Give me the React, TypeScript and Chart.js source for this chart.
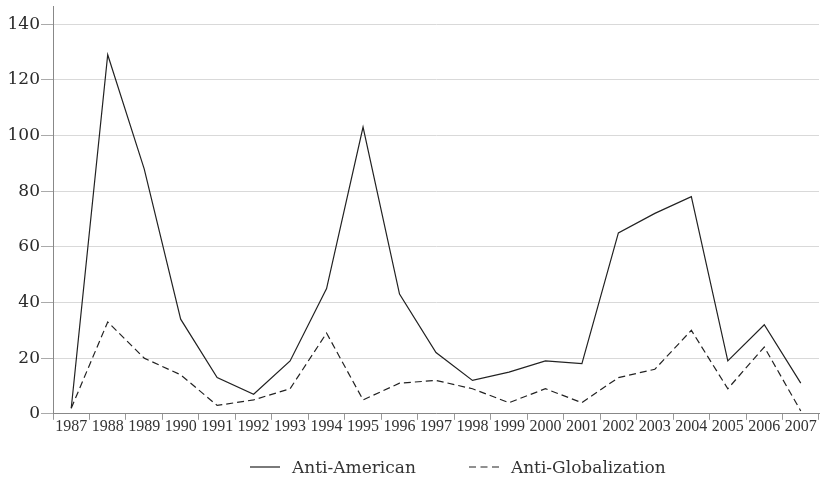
import React, { useEffect, useRef } from "react";
import { Chart, registerables } from "chart.js";

Chart.register(...registerables);

const years = ["1987","1988","1989","1990","1991","1992","1993","1994","1995","1996","1997","1998","1999","2000","2001","2002","2003","2004","2005","2006","2007"];
const antiAmerican = [2,129,88,34,13,7,19,45,103,43,22,12,15,19,18,65,72,78,19,32,11];
const antiGlobalization = [2,33,20,14,3,5,9,29,5,11,12,9,4,9,4,13,16,30,9,24,1];
const yTicks = [0,20,40,60,80,100,120,140];
const seriesNames = ["Anti-American","Anti-Globalization"];

export default function App() {
  const ref = useRef<HTMLCanvasElement | null>(null);
  useEffect(() => {
    if (!ref.current) return;
    const chart = new Chart(ref.current, {
      type: "line",
      data: {
        labels: years,
        datasets: [
          { label: seriesNames[0], data: antiAmerican, borderColor: "#222", borderWidth: 1.2, pointRadius: 0, tension: 0, fill: false },
          { label: seriesNames[1], data: antiGlobalization, borderColor: "#222", borderWidth: 1.2, borderDash: [7, 4], pointRadius: 0, tension: 0, fill: false },
        ],
      },
      options: {
        animation: false,
        responsive: true,
        maintainAspectRatio: false,
        layout: { padding: { top: 6, right: 2, left: 0, bottom: 50 } },
        plugins: { legend: { display: false }, tooltip: { enabled: false } },
        scales: {
          x: {
            type: "category",
            offset: true,
            grid: { display: true, offset: true, drawOnChartArea: false, drawTicks: true, tickLength: 6, color: "#999" },
            border: { color: "#888", width: 1 },
            ticks: { color: "#333", font: { family: "Liberation Serif", size: 16 }, padding: -3, maxRotation: 0, autoSkip: false },
          },
          y: {
            min: 0,
            max: 146.5,
            afterBuildTicks: (axis: any) => {
              axis.ticks = yTicks.map((v) => ({ value: v }));
            },
            afterFit: (scale: any) => {
              scale.width = 53;
              scale.paddingTop = 0;
              scale.paddingBottom = 0;
            },
            grid: { color: "#d9d9d9", tickColor: "#aaa", tickLength: 12, drawTicks: true },
            border: { color: "#888", width: 1 },
            ticks: { color: "#2a2a2a", font: { family: "DejaVu Serif", size: 17 }, padding: 1 },
          },
        },
      },
    });
    return () => chart.destroy();
  }, []);

  const legendText: React.CSSProperties = { fontFamily: "DejaVu Serif", fontSize: 17, color: "#333", marginLeft: 12, lineHeight: "20px" };
  return (
    <div style={{ position: "fixed", left: 0, top: 0, width: 821, height: 483, background: "#fff" }}>
      <canvas ref={ref} />
      <div style={{ position: "absolute", left: 250, top: 457, display: "flex", alignItems: "center", whiteSpace: "nowrap" }}>
        <svg width="30" height="4"><line x1="0" y1="2" x2="30" y2="2" stroke="#222" strokeWidth="1.2" /></svg>
        <span style={legendText}>{seriesNames[0]}</span>
        <svg width="30" height="4" style={{ marginLeft: 53 }}><line x1="0" y1="2" x2="30" y2="2" stroke="#222" strokeWidth="1.2" strokeDasharray="7 4.5" /></svg>
        <span style={legendText}>{seriesNames[1]}</span>
      </div>
    </div>
  );
}
